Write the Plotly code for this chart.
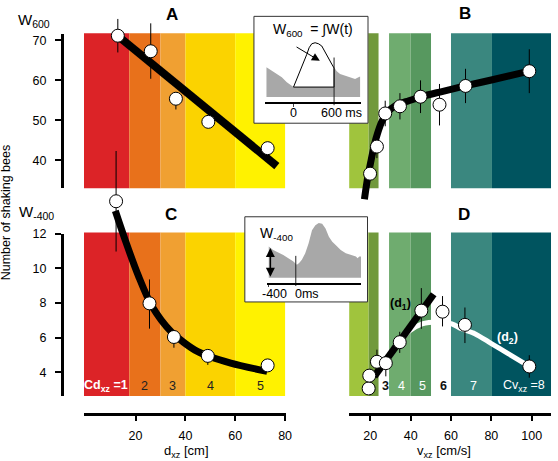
import plotly.graph_objects as go

W, H = 558, 461
def px(x):
    return x / W
def py(y):
    return 1 - y / H

FONT = "Liberation Sans, Arial, sans-serif"

# ---------------- data ----------------
# Panel A: W600 vs distance d_xz (cm)
A_D = [12.9, 26.1, 36.2, 49.2, 73.0]
A_W = [71.2, 67.3, 55.4, 49.6, 43.0]
A_ERR_UP = [4.2, 7.0, 1.0, 0.0, 0.0]
A_ERR_DN = [4.2, 6.9, 2.7, 0.0, 0.0]
A_FIT_D = [13.2, 76.7]
A_FIT_W = [71.0, 38.5]

# Panel C: W-400 vs distance
C_D = [12.2, 25.6, 35.4, 49.0, 73.0]
C_W = [13.86, 7.97, 6.03, 4.94, 4.39]
C_ERR_UP = [2.9, 1.38, 0.3, 0.3, 0.0]
C_ERR_DN = [2.9, 1.46, 0.62, 0.52, 0.0]
C_FIT_D = [11.9, 15.9, 21.2, 26.5, 34.4, 45.0, 58.2, 72.8]
C_FIT_W = [13.3, 11.6, 9.54, 7.83, 6.32, 5.18, 4.52, 4.05]

# Panel B: W600 vs velocity v_xz (cm/s)
B_V = [19.9, 23.3, 27.4, 34.7, 44.9, 54.3, 67.2, 98.8]
B_W = [36.6, 43.4, 51.7, 53.5, 55.9, 53.9, 58.6, 62.3]
B_ERR = [0.8, 2.9, 3.2, 3.3, 4.1, 5.2, 4.3, 5.5]
B_FIT_V = [17.1, 18.7, 20.3, 22.0, 23.6, 25.7, 28.5, 32.6, 39.1, 47.3, 55.5, 66.9, 80.0, 98.8]
B_FIT_W = [30.2, 35.6, 39.7, 43.8, 46.7, 49.6, 52.0, 53.7, 54.9, 56.2, 57.2, 58.6, 60.1, 62.3]

# Panel D: W-400 vs velocity
D_V = [19.2, 19.5, 23.3, 27.7, 34.6, 45.3, 55.8, 66.9, 98.8]
D_W = [3.06, 3.80, 4.60, 4.52, 5.73, 7.55, 7.49, 6.73, 4.33]
D_ERR_UP = [0.2, 0.3, 0.7, 0.4, 0.6, 1.3, 0.9, 1.0, 0.65]
D_ERR_DN = [0.2, 0.3, 0.4, 0.76, 0.62, 1.05, 0.85, 1.05, 0.65]
D1_FIT_V = [22.0, 51.4]
D1_FIT_W = [3.76, 8.5]
D2_FIT_V = [34.6, 39.1, 45.7, 53.8, 60.4, 65.3, 71.8, 80.0, 88.1, 98.8]
D2_FIT_W = [5.73, 6.35, 6.79, 6.9, 6.79, 6.5, 6.22, 5.65, 5.09, 4.33]

# Categories (zones)
CD_EDGES = [-1, 17.5, 30, 40, 60, 80]
CD_COLORS = ["#dc2327", "#e8711b", "#f0a032", "#fbd300", "#fff200"]
CD_LABELS = ["Cd<sub>xz</sub> =1", "2", "3", "4", "5"]
CD_LABEL_COLORS = ["white", "#222222", "#222222", "#222222", "#222222"]

CV_ZONES = [(9.4, 19.2), (19.2, 24.1), (24.1, 29.3), (29.3, 40.0), (40.0, 50.1),
            (50.1, 60.0), (60.0, 80.3), (80.3, 110.0)]
CV_COLORS = ["#a0c43d", "#71993c", None, "#6fac6f", "#57985f", None, "#3a877f", "#00545f"]
CV_LABELS = [None, None, "3", "4", "5", "6", "7", "Cv<sub>xz</sub> =8"]
CV_LABEL_COLORS = [None, None, "#111111", "white", "white", "#111111", "white", "white"]
CV_LABEL_BOLD = [False, False, True, False, False, True, False, False]

# Insets: W(t) time histogram (ms, arbitrary height)
PA_T = [-400, -321, -247, -173, -99, -25, 0, 49, 98, 148, 197, 231, 271, 320, 369, 418,
        468, 517, 566, 600, 640, 689, 763, 837, 911, 961, 985]
PA_H = [30, 26.7, 23.3, 20, 15, 11.7, 10, 18.3, 25, 33.3, 43.3, 50, 54, 55, 54, 51.7,
        45, 40, 33.3, 29.3, 26, 23.3, 21.7, 20, 18.3, 20, 20.7]
PC_T = [-400, -335, -260, -185, -110, -35, 15, 50, 90, 140, 190, 240, 290, 340, 390, 440,
        490, 540, 590, 665, 740, 815, 890, 915, 940, 965]
PC_H = [31.7, 28.3, 25.7, 23.3, 20, 16.7, 13.3, 15, 18.3, 25, 35, 48.3, 53.3, 55.7, 55,
        50, 41.7, 36.7, 33.3, 28.3, 25, 23.3, 21.7, 20, 21.7, 21.7]
WINDOW_START_MS = 0
WINDOW_END_MS = 600

# ---------------- figure ----------------
fig = go.Figure()

def fit_line(x, y, xa, ya, width, color="black", shape="spline"):
    fig.add_trace(go.Scatter(x=x, y=y, mode="lines", xaxis=xa, yaxis=ya,
                             line=dict(color=color, width=width, shape=shape, smoothing=0.8),
                             hoverinfo="skip"))

def points(x, y, up, dn, xa, ya):
    fig.add_trace(go.Scatter(
        x=x, y=y, mode="markers", xaxis=xa, yaxis=ya, cliponaxis=False,
        marker=dict(size=13, color="white", line=dict(color="black", width=1)),
        error_y=dict(type="data", symmetric=False, array=up, arrayminus=dn,
                     color="black", thickness=1, width=0)))

# empty traces so that the visible left axes get their own subplots
fig.add_trace(go.Scatter(x=[], y=[], xaxis="x", yaxis="y", mode="markers"))
fig.add_trace(go.Scatter(x=[], y=[], xaxis="x", yaxis="y2", mode="markers"))

# Panel A
fit_line(A_FIT_D, A_FIT_W, "x", "y3", 8, shape="linear")
points(A_D, A_W, A_ERR_UP, A_ERR_DN, "x", "y3")
# Panel B
fit_line(B_FIT_V, B_FIT_W, "x2", "y3", 7)
points(B_V, B_W, B_ERR, B_ERR, "x2", "y3")
# Panel C
fit_line(C_FIT_D, C_FIT_W, "x", "y4", 7)
points(C_D, C_W, C_ERR_UP, C_ERR_DN, "x", "y4")
# Panel D
fit_line(D2_FIT_V, D2_FIT_W, "x2", "y4", 5, color="white")
fit_line(D1_FIT_V, D1_FIT_W, "x2", "y4", 7, shape="linear")
points(D_V, D_W, D_ERR_UP, D_ERR_DN, "x2", "y4")

# Inset A
fig.add_trace(go.Scatter(x=PA_T, y=PA_H, mode="lines", fill="tozeroy", fillcolor="#a8a8a8",
                         line=dict(width=0, color="#a8a8a8"), xaxis="x5", yaxis="y5"))
win = [(t, h) for t, h in zip(PA_T, PA_H) if WINDOW_START_MS <= t <= WINDOW_END_MS]
base = win[0][1]
wx = [t for t, _ in win] + [win[-1][0], win[0][0]]
wy = [h for _, h in win] + [base, base]
fig.add_trace(go.Scatter(x=wx, y=wy, mode="lines", fill="toself", fillcolor="white",
                         line=dict(width=1, color="black"), xaxis="x5", yaxis="y5"))
fig.add_trace(go.Scatter(x=[WINDOW_END_MS, WINDOW_END_MS], y=[40, -8.4], mode="lines",
                         line=dict(width=1, color="#222222"), xaxis="x5", yaxis="y5"))
# Inset C
fig.add_trace(go.Scatter(x=PC_T, y=PC_H, mode="lines", fill="tozeroy", fillcolor="#a8a8a8",
                         line=dict(width=0, color="#a8a8a8"), xaxis="x6", yaxis="y6"))
fig.add_trace(go.Scatter(x=[WINDOW_START_MS, WINDOW_START_MS], y=[22.3, -8.3], mode="lines",
                         line=dict(width=1, color="#222222"), xaxis="x6", yaxis="y6"))

# ---------------- background bands ----------------
shapes = []
for i, col in enumerate(CD_COLORS):
    for (yb, yt) in [(184, 26.7), (395, 229)]:
        shapes.append(dict(type="rect", xref="x", yref="paper", x0=CD_EDGES[i], x1=CD_EDGES[i + 1],
                           y0=py(yb), y1=py(yt), fillcolor=col, line=dict(width=0), layer="below"))
for (x0, x1), col in zip(CV_ZONES, CV_COLORS):
    if col is None:
        continue
    for (yb, yt) in [(184, 26.7), (395, 229)]:
        shapes.append(dict(type="rect", xref="x2", yref="paper", x0=x0, x1=x1,
                           y0=py(yb), y1=py(yt), fillcolor=col, line=dict(width=0), layer="below"))
# inset frames
shapes.append(dict(type="rect", xref="paper", yref="paper", x0=px(256.7), x1=px(372), y0=py(118), y1=py(9.5),
                   fillcolor="white", line=dict(color="#333333", width=1), layer="below"))
shapes.append(dict(type="rect", xref="paper", yref="paper", x0=px(247.5), x1=px(371.5), y0=py(299.5), y1=py(213),
                   fillcolor="white", line=dict(color="#333333", width=1), layer="below"))

# ---------------- annotations ----------------
ann = []
def text(x, y, s, size=13, color="black", bold=False, xanchor="center", yanchor="middle", xref="paper", yref="paper", angle=0, xshift=0, yshift=0):
    ann.append(dict(x=x, y=y, xref=xref, yref=yref, text=("<b>%s</b>" % s) if bold else s, showarrow=False,
                    font=dict(family=FONT, size=size, color=color), xanchor=xanchor, yanchor=yanchor,
                    textangle=angle, xshift=xshift, yshift=yshift))

text(px(174), py(9.5), "A", 17, bold=True, yshift=2)
text(px(469.7), py(8.5), "B", 17, bold=True, yshift=2)
text(px(173.3), py(211), "C", 17, bold=True)
text(px(469), py(211), "D", 17, bold=True)
text(px(16.5), py(14), "W<sub>600</sub>", 15, xanchor="left")
text(px(17.5), py(209), "W<sub>-400</sub>", 15, xanchor="left")
text(px(6), py(208.5), "Number of shaking bees", 12.5, angle=-90)
text(px(189), py(451.5), "d<sub>xz</sub> [cm]", 13)
text(px(449), py(451.5), "v<sub>xz</sub> [cm/s]", 13)

for i, lab in enumerate(CD_LABELS):
    text((CD_EDGES[i] + CD_EDGES[i + 1]) / 2, py(385), lab, 12.5, color=CD_LABEL_COLORS[i],
         bold=(i == 0), xref="x")
for (x0, x1), lab, col, b in zip(CV_ZONES, CV_LABELS, CV_LABEL_COLORS, CV_LABEL_BOLD):
    if lab is None:
        continue
    text((x0 + x1) / 2, py(385), lab, 12.5, color=col, bold=b, xref="x2", xshift=2)

text(px(405), py(301.5), "(d<sub>1</sub>)", 12.5, bold=True)
text(px(513), py(336), "(d<sub>2</sub>)", 12.5, color="white", bold=True)

# inset texts
text(px(274), py(23), "W<sub>600</sub>  = ∫W(t)", 14, xanchor="left")
text(0, py(108), "0", 12.5, xref="x5")
text(px(345.5), py(108), "600 ms", 12.5)
text(px(261), py(230), "W<sub>-400</sub>", 14, xanchor="left")
text(-400, py(291.7), "-400", 12.5, xref="x6", xshift=6)
text(px(296), py(291.7), "0ms", 12.5, xanchor="left")

# arrows
ann.append(dict(x=389, y=36.6, xref="x5", yref="y5", ax=23, ay=51.6, axref="x5", ayref="y5",
                text="", showarrow=True, arrowhead=2, arrowsize=1.6, arrowwidth=1, arrowcolor="black",
                standoff=0))
ann.append(dict(x=-376, y=1, xref="x6", yref="y6", ax=-376, ay=31.7, axref="x6", ayref="y6",
                text="", showarrow=True, arrowhead=2, arrowside="end+start", arrowsize=1.2,
                arrowwidth=1.5, arrowcolor="black", standoff=0, startstandoff=0))

tickfont = dict(family=FONT, size=12.5, color="black")
axis_common = dict(showgrid=False, zeroline=False, showline=True, linecolor="black", linewidth=2.5,
                   ticks="outside", tickwidth=2, tickcolor="black", tickfont=tickfont, anchor="free")

fig.update_layout(
    width=W, height=H, margin=dict(l=0, r=0, t=0, b=0), autosize=False,
    paper_bgcolor="white", plot_bgcolor="rgba(0,0,0,0)", showlegend=False,
    font=dict(family=FONT, size=13, color="black"),
    shapes=shapes, annotations=ann,
    xaxis=dict(domain=[px(85), px(289)], range=[-0.635, 80.32], position=py(413.3),
               tickvals=[20, 40, 60, 80], ticklen=5, ticklabelstandoff=4, **axis_common),
    xaxis2=dict(domain=[px(353), px(557)], range=[9.559, 109.56], position=py(413.3),
                tickvals=[20, 40, 60, 80, 100], ticklen=5, ticklabelstandoff=4, **axis_common),
    yaxis=dict(domain=[py(184), py(27)], range=[32.963, 71.728], position=px(62.3),
               tickvals=[40, 50, 60, 70], ticklen=6, ticklabelstandoff=6, **axis_common),
    yaxis2=dict(domain=[py(395), py(230)], range=[2.625, 12], position=px(62.3),
                tickvals=[4, 6, 8, 10, 12], ticklen=6, ticklabelstandoff=6, **axis_common),
    yaxis3=dict(domain=[py(210), 1], range=[26.543, 78.395], visible=False),
    yaxis4=dict(domain=[py(400), py(140)], range=[2.3409, 17.1136], visible=False),
    xaxis5=dict(domain=[px(268.3), px(365)], range=[-415.6, 999.5], anchor="free", position=py(97.3),
                showgrid=False, zeroline=False, showline=True, linecolor="black", linewidth=2,
                ticks="outside", tickvals=[0], ticklen=3, tickwidth=1, showticklabels=False),
    yaxis5=dict(domain=[py(101.3), py(25.3)], range=[-10, 66], visible=False),
    xaxis6=dict(domain=[px(270), px(365)], range=[-424.6, 966.3], anchor="free", position=py(281),
                showgrid=False, zeroline=False, showline=True, linecolor="black", linewidth=2,
                ticks="outside", tickvals=[-400], ticklen=2, tickwidth=1, showticklabels=False),
    yaxis6=dict(domain=[py(285), py(210)], range=[-10, 65], visible=False),
)

fig.write_html("out.html", config={"displayModeBar": False},
               post_script="document.body.style.margin='0';document.body.style.overflow='hidden';")
